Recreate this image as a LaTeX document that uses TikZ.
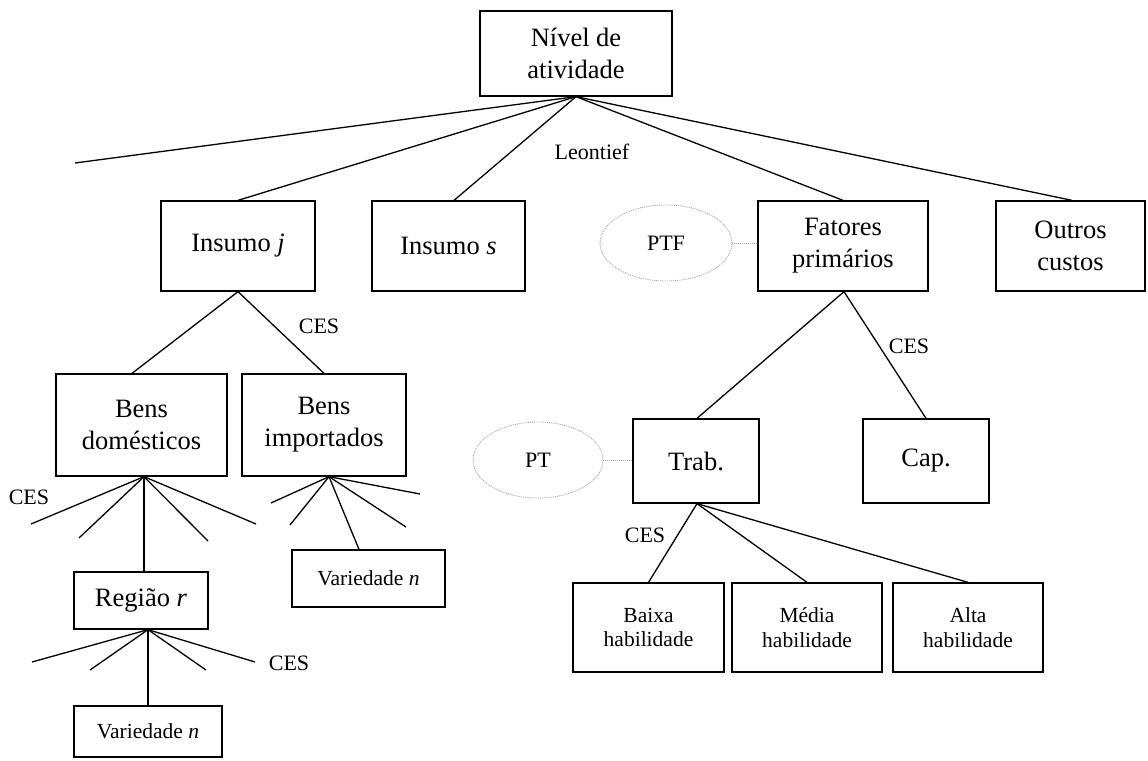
\documentclass[tikz,border=0pt]{standalone}
\usepackage{fontspec}
\setmainfont{Liberation Serif}
\usetikzlibrary{shapes.geometric}
\tikzset{
  bigbox/.style={draw, line width=1.3pt, inner sep=0pt, align=center,
    font=\fontsize{26.5}{32}\selectfont},
  smallbox/.style={draw, line width=1.3pt, inner sep=0pt, align=center,
    font=\fontsize{21.5}{24.5}\selectfont},
  branch/.style={line width=1.3pt},
  lbl/.style={font=\fontsize{22}{24}\selectfont, inner sep=0pt},
  oval/.style={ellipse, draw=gray!70, densely dotted, line width=0.9pt,
    inner sep=0pt, font=\fontsize{22}{24}\selectfont},
  link/.style={draw=gray!70, densely dotted, line width=1pt}
}
\begin{document}
\begin{tikzpicture}[x=1pt,y=-1pt]
\useasboundingbox (0,0) rectangle (1148,760);

% activity level and first nest
\node[bigbox, minimum width=192pt, minimum height=85pt] (top) at (576,53.5) {Nível de\\atividade};
\node[bigbox, minimum width=154pt, minimum height=90pt] (insj) at (238,246) {Insumo \textit{j}};
\node[bigbox, minimum width=153pt, minimum height=90pt] (inss) at (448.5,246) {Insumo \textit{s}};
\node[bigbox, minimum width=170pt, minimum height=90pt] (fat) at (843,246) {Fatores\\primários};
\node[bigbox, minimum width=149pt, minimum height=90pt] (out) at (1070.5,246) {Outros\\custos};
\node[oval, minimum width=132pt, minimum height=76pt] (ptf) at (666,243) {PTF};

% Armington nest
\node[bigbox, minimum width=171pt, minimum height=102pt] (bdom) at (141.5,425) {Bens\\domésticos};
\node[bigbox, minimum width=164pt, minimum height=102pt] (bimp) at (324,425) {Bens\\importados};
\node[bigbox, minimum width=134pt, minimum height=57pt] (reg) at (141,600.5) {Região \textit{r}};
\node[smallbox, minimum width=148pt, minimum height=51pt] (var1) at (148,731.5) {Variedade \textit{n}};
\node[smallbox, minimum width=153pt, minimum height=57pt] (var2) at (368.5,578.5) {Variedade \textit{n}};

% primary factors nest
\node[bigbox, minimum width=126pt, minimum height=84pt] (trab) at (696,461) {Trab.};
\node[bigbox, minimum width=126pt, minimum height=84pt] (cap) at (926,461) {Cap.};
\node[oval, minimum width=130pt, minimum height=76pt] (pt) at (538,460) {PT};
\node[smallbox, minimum width=151pt, minimum height=89pt] (baixa) at (648.5,627.5) {Baixa\\habilidade};
\node[smallbox, minimum width=150pt, minimum height=89pt] (media) at (807,627.5) {Média\\habilidade};
\node[smallbox, minimum width=150pt, minimum height=89pt] (alta) at (968,627.5) {Alta\\habilidade};

% labels
\node[lbl] (leon) at (592,152) {Leontief};
\node[lbl] (ces1) at (319,326) {CES};
\node[lbl] (ces2) at (909,346) {CES};
\node[lbl] (ces3) at (29,497) {CES};
\node[lbl] (ces4) at (289,663) {CES};
\node[lbl] (ces5) at (645,535) {CES};

% free ends of the open branches
\coordinate (t0) at (75,163);
\coordinate (d1) at (31,524);
\coordinate (d2) at (79,538);
\coordinate (d3) at (208,541);
\coordinate (d4) at (256,524);
\coordinate (i1) at (271,503);
\coordinate (i2) at (290,525);
\coordinate (i3) at (406,527);
\coordinate (i4) at (420,494);
\coordinate (r1) at (32,662);
\coordinate (r2) at (90,670);
\coordinate (r3) at (206,670);
\coordinate (r4) at (255,662);

% branch points
\coordinate (dapex) at ([xshift=2.5pt]bdom.south);
\coordinate (rapex) at ([xshift=7pt]reg.south);
\coordinate (iapex) at ([xshift=5pt]bimp.south);
\coordinate (fapex) at ([xshift=1pt]fat.south);
\coordinate (tapex) at ([xshift=1pt]trab.south);

% branches from the activity level
\draw[branch] (top.south) -- (t0);
\draw[branch] (top.south) -- (insj.north);
\draw[branch] (top.south) -- ([xshift=5.5pt]inss.north);
\draw[branch] (top.south) -- (fat.north);
\draw[branch] (top.south) -- ([xshift=1.5pt]out.north);

% composite input
\draw[branch] (insj.south) -- ([xshift=-9.5pt]bdom.north);
\draw[branch] (insj.south) -- (bimp.north);

% domestic goods by region
\foreach \e in {d1,d2,d3,d4} \draw[branch] (dapex) -- (\e);
\draw[branch] (dapex) -- (dapex |- reg.north);
\foreach \e in {r1,r2,r3,r4} \draw[branch] (rapex) -- (\e);
\draw[branch] (rapex) -- (var1.north);

% imported goods
\foreach \e in {i1,i2,i3,i4} \draw[branch] (iapex) -- (\e);
\draw[branch] (iapex) -- ([xshift=-9.5pt]var2.north);

% primary factors
\draw[branch] (fapex) -- ([xshift=1pt]trab.north);
\draw[branch] (fapex) -- (cap.north);
\draw[branch] (tapex) -- (baixa.north);
\draw[branch] (tapex) -- (media.north);
\draw[branch] (tapex) -- (alta.north);

% productivity shifters
\draw[link] (ptf.east) -- (ptf.east -| fat.west);
\draw[link] (pt.east) -- (pt.east -| trab.west);
\end{tikzpicture}
\end{document}
